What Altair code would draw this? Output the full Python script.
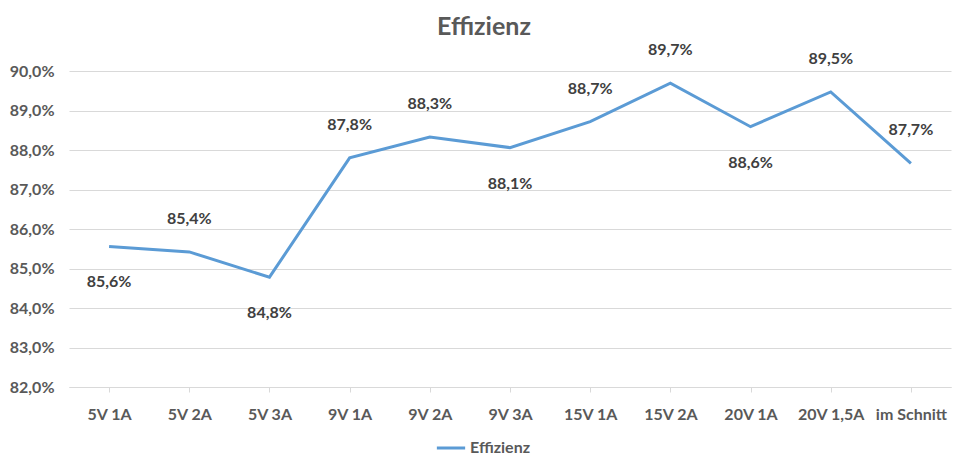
import altair as alt
import pandas as pd

# ---- data ----
categories = ["5V 1A", "5V 2A", "5V 3A", "9V 1A", "9V 2A", "9V 3A",
              "15V 1A", "15V 2A", "20V 1A", "20V 1,5A", "im Schnitt"]
efficiency = [85.56, 85.42, 84.78, 87.80, 88.33, 88.06,
              88.72, 89.69, 88.59, 89.47, 87.66]
label_side = ["below", "above", "below", "above", "above", "below",
              "above", "above", "below", "above", "above"]
y_ticks = [82, 83, 84, 85, 86, 87, 88, 89, 90]
series_name = "Effizienz"

df = pd.DataFrame({
    "Kategorie": categories,
    "Wert": efficiency,
    "Lage": label_side,
    "Serie": [series_name] * len(categories),
})

FONT = "Lato"
AXIS_COLOR = "#595959"
LABEL_COLOR = "#404040"
GRID = "#d9d9d9"
LINE = "#5b9bd5"

pct_expr = "replace(format({v}, '.1f'), '.', ',') + '%'"

x = alt.X(
    "Kategorie:N",
    sort=categories,
    scale=alt.Scale(type="point", padding=0.5),
    axis=alt.Axis(
        title=None, labelAngle=0, grid=False,
        domainColor=GRID, domainWidth=1,
        ticks=True, tickColor=GRID, tickSize=5,
        labelPadding=14, labelFont=FONT, labelFontSize=16,
        labelFontWeight="bold", labelColor=AXIS_COLOR,
    ),
)
y = alt.Y(
    "Wert:Q",
    scale=alt.Scale(domain=[82, 90], nice=False, zero=False),
    axis=alt.Axis(
        title=None, values=y_ticks, domain=False, ticks=False,
        grid=True, gridColor=GRID, gridWidth=1,
        labelExpr=pct_expr.format(v="datum.value"),
        labelPadding=15, labelFont=FONT, labelFontSize=16,
        labelFontWeight="bold", labelColor=AXIS_COLOR,
    ),
)

base = alt.Chart(df).encode(x=x, y=y)

line = base.mark_line(strokeWidth=3).encode(
    color=alt.Color(
        "Serie:N",
        scale=alt.Scale(range=[LINE]),
        legend=alt.Legend(
            title=None, orient="none", legendX=366, legendY=361,
            symbolType="stroke", symbolStrokeWidth=3, symbolSize=800,
            labelFont=FONT, labelFontSize=16, labelFontWeight="bold",
            labelColor=AXIS_COLOR, padding=0, labelOffset=3,
        ),
    )
)

text_base = base.transform_calculate(
    label=pct_expr.format(v="datum.Wert")
)
above = text_base.transform_filter("datum.Lage == 'above'").mark_text(
    font=FONT, fontSize=16, fontWeight="bold", color=LABEL_COLOR, dy=-33
).encode(text="label:N")
below = text_base.transform_filter("datum.Lage == 'below'").mark_text(
    font=FONT, fontSize=16, fontWeight="bold", color=LABEL_COLOR, dy=36
).encode(text="label:N")

chart = (
    alt.layer(line, above, below)
    .properties(
        width=882,
        height=316,
        title=alt.Title(
            "Effizienz", font=FONT, fontSize=25, fontWeight="bold",
            color=AXIS_COLOR, frame="group", anchor="middle", dx=-26,
            offset=2,
        ),
        autosize=alt.AutoSizeParams(type="none"),
        padding={"left": 61, "top": 63, "right": 8, "bottom": 69},
        background="white",
    )
    .configure_view(stroke=None)
)

chart.save("out.html", embed_options={"renderer": "svg", "actions": False})
